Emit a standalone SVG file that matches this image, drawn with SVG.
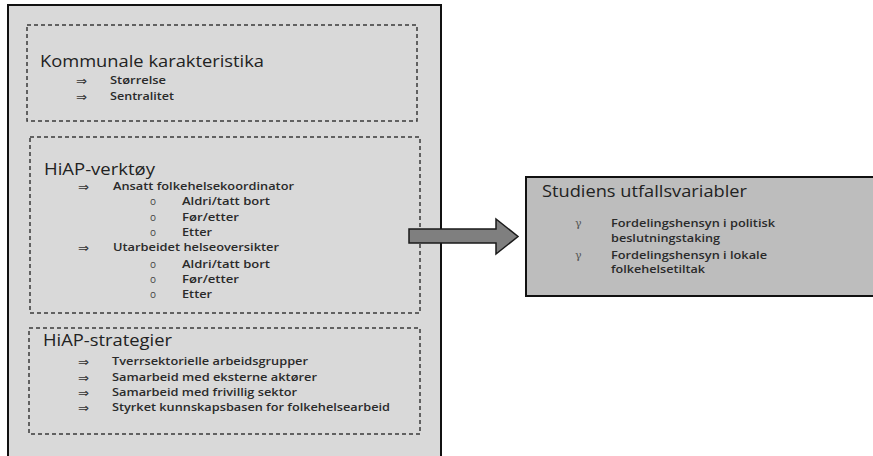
<svg xmlns="http://www.w3.org/2000/svg" width="873" height="456" viewBox="0 0 873 456">
  <style>
    text { font-family: "Open Sans", "Liberation Sans", sans-serif; fill: #222222; }
    .title { font-size: 15.5px; }
    .item { font-size: 11px; font-weight: 600; fill: #2a2a2a; }
    .arrowmark { font-family: "DejaVu Sans", sans-serif; font-size: 12px; fill: #333333; }
    .dot { font-size: 10px; fill: #444444; }
    .gamma { font-family: "DejaVu Serif", serif; font-size: 11px; fill: #555555; }
    .dash { fill: none; stroke: #3a3a3a; stroke-width: 1.5; stroke-dasharray: 4 3; }
  </style>

  <rect x="0" y="0" width="873" height="456" fill="#ffffff"/>

  <!-- outer frame holding the explanatory variables -->
  <g id="explanatory-frame">
    <rect x="8" y="5" width="433" height="462" fill="#d9d9d9" stroke="#111111" stroke-width="2"/>
  </g>

  <!-- municipal characteristics -->
  <g id="kommunale-karakteristika">
    <rect class="dash" x="27" y="25" width="390" height="96"/>
    <text class="title" x="40" y="66.5" textLength="224" lengthAdjust="spacingAndGlyphs">Kommunale karakteristika</text>
    <text class="arrowmark" x="76" y="85" textLength="11" lengthAdjust="spacingAndGlyphs">⇒</text>
    <text class="item" x="110" y="84" textLength="56" lengthAdjust="spacingAndGlyphs">Størrelse</text>
    <text class="arrowmark" x="76" y="100.5" textLength="11" lengthAdjust="spacingAndGlyphs">⇒</text>
    <text class="item" x="110" y="99.5" textLength="64" lengthAdjust="spacingAndGlyphs">Sentralitet</text>
  </g>

  <!-- HiAP tools -->
  <g id="hiap-verktoy">
    <rect class="dash" x="30" y="137" width="390" height="176"/>
    <text class="title" x="44" y="175" textLength="111" lengthAdjust="spacingAndGlyphs">HiAP-verktøy</text>
    <text class="arrowmark" x="78" y="191" textLength="11" lengthAdjust="spacingAndGlyphs">⇒</text>
    <text class="item" x="113" y="190" textLength="181" lengthAdjust="spacingAndGlyphs">Ansatt folkehelsekoordinator</text>
    <text class="dot" x="150" y="205">o</text>
    <text class="item" x="182" y="205" textLength="88" lengthAdjust="spacingAndGlyphs">Aldri/tatt bort</text>
    <text class="dot" x="150" y="220.5">o</text>
    <text class="item" x="182" y="220.5" textLength="57" lengthAdjust="spacingAndGlyphs">Før/etter</text>
    <text class="dot" x="150" y="236">o</text>
    <text class="item" x="182" y="236" textLength="30" lengthAdjust="spacingAndGlyphs">Etter</text>
    <text class="arrowmark" x="78" y="252" textLength="11" lengthAdjust="spacingAndGlyphs">⇒</text>
    <text class="item" x="113" y="251" textLength="166" lengthAdjust="spacingAndGlyphs">Utarbeidet helseoversikter</text>
    <text class="dot" x="150" y="267.5">o</text>
    <text class="item" x="182" y="267.5" textLength="88" lengthAdjust="spacingAndGlyphs">Aldri/tatt bort</text>
    <text class="dot" x="150" y="283">o</text>
    <text class="item" x="182" y="283" textLength="57" lengthAdjust="spacingAndGlyphs">Før/etter</text>
    <text class="dot" x="150" y="298">o</text>
    <text class="item" x="182" y="298" textLength="30" lengthAdjust="spacingAndGlyphs">Etter</text>
  </g>

  <!-- HiAP strategies -->
  <g id="hiap-strategier">
    <rect class="dash" x="29" y="328" width="391" height="106"/>
    <text class="title" x="43" y="346" textLength="129" lengthAdjust="spacingAndGlyphs">HiAP-strategier</text>
    <text class="arrowmark" x="78" y="366" textLength="11" lengthAdjust="spacingAndGlyphs">⇒</text>
    <text class="item" x="112" y="365" textLength="196" lengthAdjust="spacingAndGlyphs">Tverrsektorielle arbeidsgrupper</text>
    <text class="arrowmark" x="78" y="381.5" textLength="11" lengthAdjust="spacingAndGlyphs">⇒</text>
    <text class="item" x="112" y="380.5" textLength="205" lengthAdjust="spacingAndGlyphs">Samarbeid med eksterne aktører</text>
    <text class="arrowmark" x="78" y="397" textLength="11" lengthAdjust="spacingAndGlyphs">⇒</text>
    <text class="item" x="112" y="396" textLength="185" lengthAdjust="spacingAndGlyphs">Samarbeid med frivillig sektor</text>
    <text class="arrowmark" x="78" y="412" textLength="11" lengthAdjust="spacingAndGlyphs">⇒</text>
    <text class="item" x="112" y="411" textLength="278" lengthAdjust="spacingAndGlyphs">Styrket kunnskapsbasen for folkehelsearbeid</text>
  </g>

  <!-- outcome variables -->
  <g id="utfallsvariabler">
    <rect x="526" y="177" width="360" height="119" fill="#bdbdbd" stroke="#111111" stroke-width="2"/>
    <text class="title" x="542" y="197" textLength="205" lengthAdjust="spacingAndGlyphs">Studiens utfallsvariabler</text>
    <text class="gamma" x="575" y="227">γ</text>
    <text class="item" x="611" y="227" textLength="164" lengthAdjust="spacingAndGlyphs">Fordelingshensyn i politisk</text>
    <text class="item" x="611" y="242" textLength="109" lengthAdjust="spacingAndGlyphs">beslutningstaking</text>
    <text class="gamma" x="575" y="259">γ</text>
    <text class="item" x="611" y="259" textLength="156" lengthAdjust="spacingAndGlyphs">Fordelingshensyn i lokale</text>
    <text class="item" x="611" y="273" textLength="94" lengthAdjust="spacingAndGlyphs">folkehelsetiltak</text>
  </g>

  <!-- connectors -->
  <g id="connectors">
    <polygon points="409,229 496,229 496,219 518,236.5 496,254 496,243 409,243" fill="#7f7f7f" stroke="#1a1a1a" stroke-width="1.5" stroke-linejoin="miter"/>
  </g>
</svg>
